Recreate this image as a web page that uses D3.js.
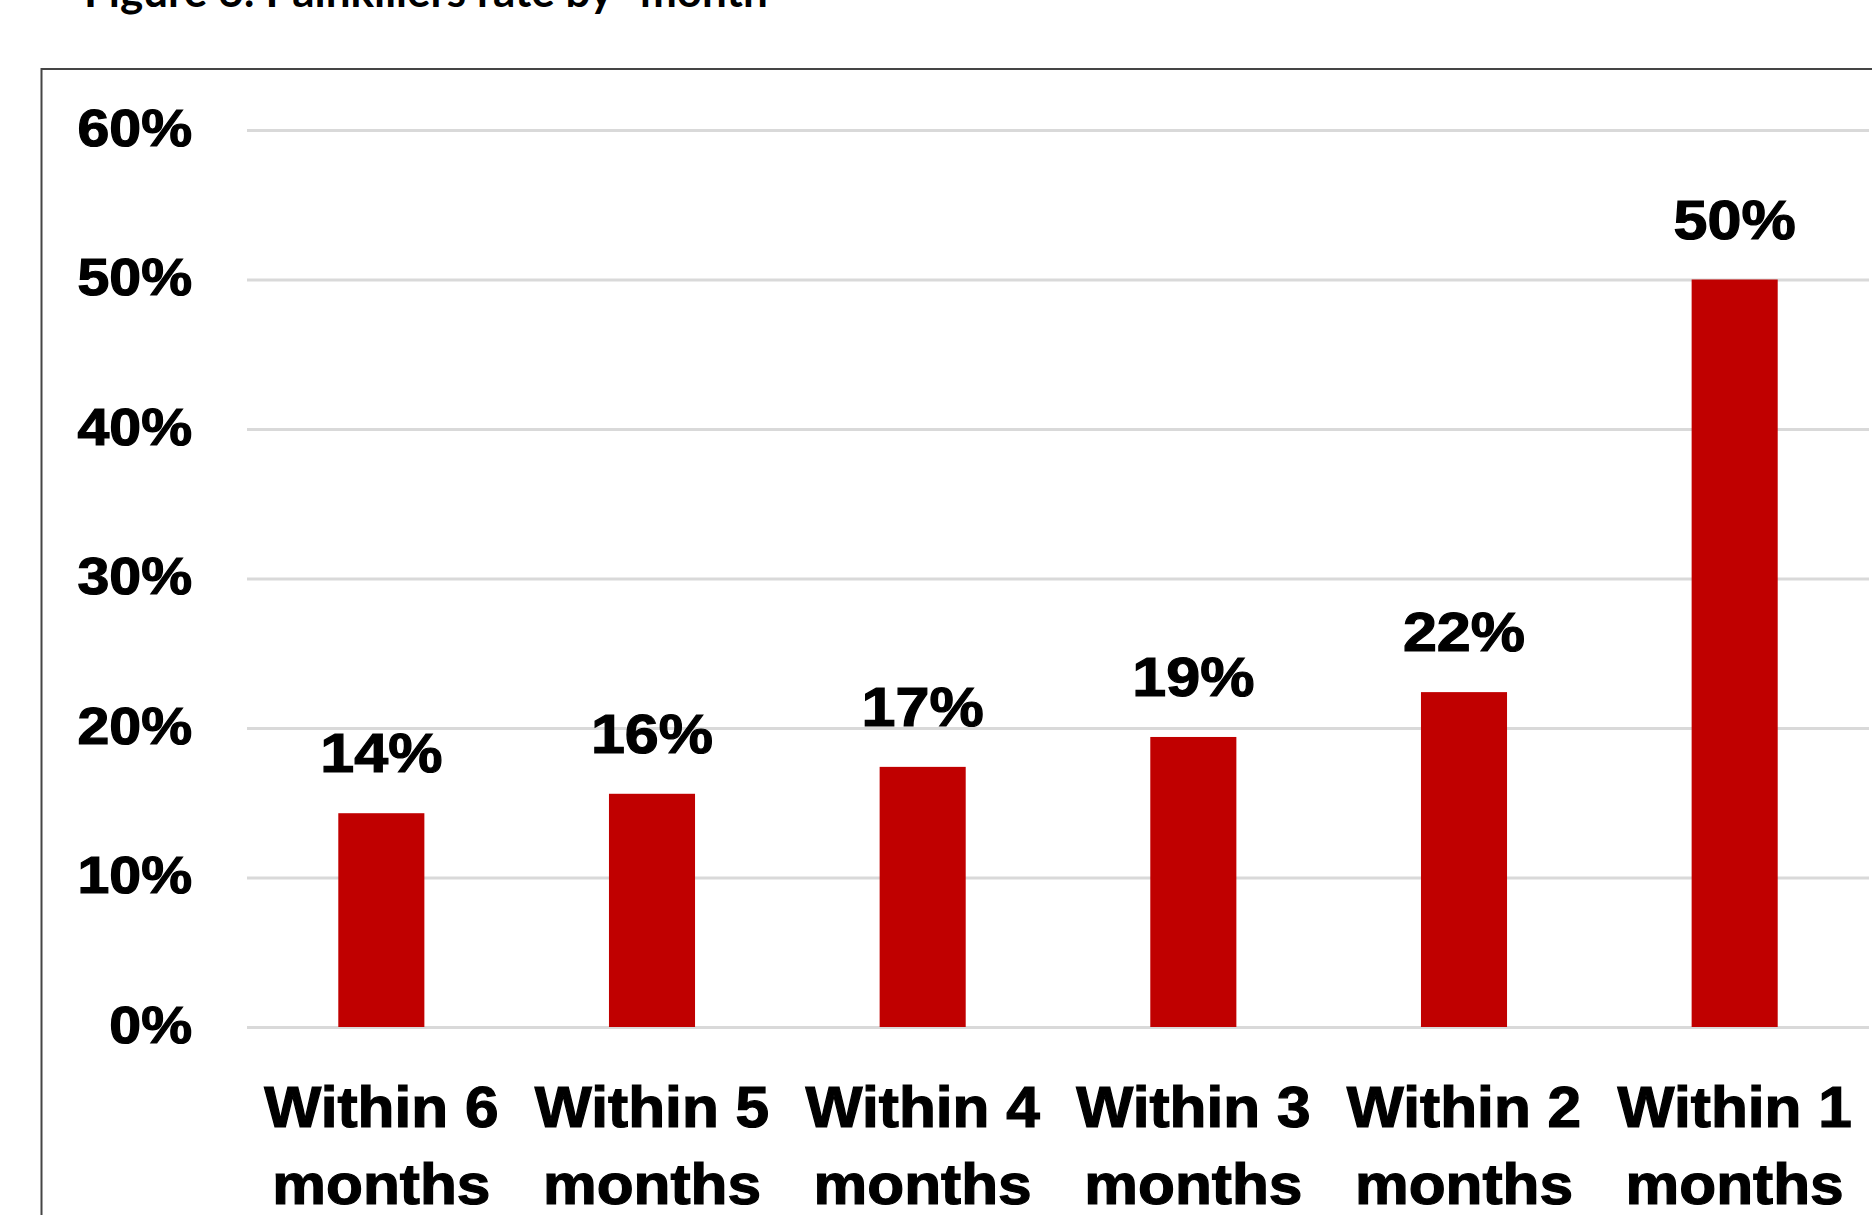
<!DOCTYPE html>
<html>
<head>
<meta charset="utf-8">
<script src="https://cdn.jsdelivr.net/npm/d3@7"></script>
<style>
  html, body { margin: 0; padding: 0; background: #ffffff; overflow: hidden; }
  svg { display: block; }
</style>
</head>
<body>
<svg id="chart" width="1872" height="1215"></svg>
<script>
// Share of patients using painkillers, by time window
const categories = ["Within 6 months", "Within 5 months", "Within 4 months",
                    "Within 3 months", "Within 2 months", "Within 1 months"];
const rates = [14.3, 15.6, 17.4, 19.4, 22.4, 50.0];
const yTicks = [0, 10, 20, 30, 40, 50, 60];
const titleText = "Figure 6: Painkillers rate by \"month\"";

const svg = d3.select("#chart");
const FONT = "'Liberation Sans', Arial, sans-serif";
const pct = v => d3.format(".0%")(v / 100);

const y = d3.scaleLinear().domain([0, 60]).range([1027, 130]);
const x = d3.scaleBand().domain(categories).range([246, 1870])
  .paddingInner(0.682).paddingOuter(0.341);

// outer frame around the chart area
svg.append("rect")
  .attr("x", 41.5).attr("y", 69)
  .attr("width", 1900).attr("height", 1300)
  .attr("fill", "none").attr("stroke", "#454545").attr("stroke-width", 2);

// title, partly above the page edge
svg.append("text")
  .attr("x", 84).attr("y", 7)
  .attr("font-family", "Lato, 'Open Sans', sans-serif")
  .attr("font-weight", 700).attr("font-size", 44)
  .attr("fill", "#000")
  .text(titleText);

// horizontal gridlines via the axis
const yAxis = d3.axisLeft(y).tickValues(yTicks).tickSize(-(1869 - 247)).tickFormat(pct);
const gy = svg.append("g").attr("transform", "translate(247,0)").call(yAxis);
gy.select(".domain").remove();
gy.selectAll(".tick line").attr("stroke", "#d9d9d9").attr("stroke-width", 3);
const sy = 1.1;
gy.selectAll(".tick text")
  .attr("font-family", FONT).attr("font-weight", 700).attr("font-size", 52)
  .attr("fill", "#000").attr("stroke", "#000").attr("stroke-width", 1.2)
  .attr("text-anchor", "end")
  .attr("dy", null).attr("y", 15)
  .attr("x", -(247 - 192) / sy)
  .attr("transform", `scale(${sy},1)`);

// bars
svg.append("g").selectAll("rect")
  .data(rates)
  .join("rect")
  .attr("x", (d, i) => x(categories[i]))
  .attr("width", x.bandwidth())
  .attr("y", d => y(d))
  .attr("height", d => y(0) - y(d))
  .attr("fill", "#c00000");

// value labels above the bars
const sl = 1.09;
svg.append("g").selectAll("text")
  .data(rates)
  .join("text")
  .attr("transform", (d, i) =>
    `translate(${x(categories[i]) + x.bandwidth() / 2},${y(d) - 41}) scale(${sl},1)`)
  .attr("text-anchor", "middle")
  .attr("font-family", FONT).attr("font-weight", 700).attr("font-size", 56)
  .attr("fill", "#000").attr("stroke", "#000").attr("stroke-width", 1.2)
  .text(d => pct(d));

// category labels on two lines
const sx = 1.06;
const xLabels = svg.append("g").selectAll("text")
  .data(categories)
  .join("text")
  .attr("transform", d => `translate(${x(d) + x.bandwidth() / 2},1127) scale(${sx},1)`)
  .attr("text-anchor", "middle")
  .attr("font-family", FONT).attr("font-weight", 700).attr("font-size", 57)
  .attr("fill", "#000").attr("stroke", "#000").attr("stroke-width", 1.2);
xLabels.each(function (d) {
  const parts = d.split(" ");
  const t = d3.select(this);
  t.append("tspan").attr("x", 0).attr("y", 0).text(parts.slice(0, 2).join(" "));
  t.append("tspan").attr("x", 0).attr("y", 77).text(parts.slice(2).join(" "));
});
</script>
</body>
</html>
